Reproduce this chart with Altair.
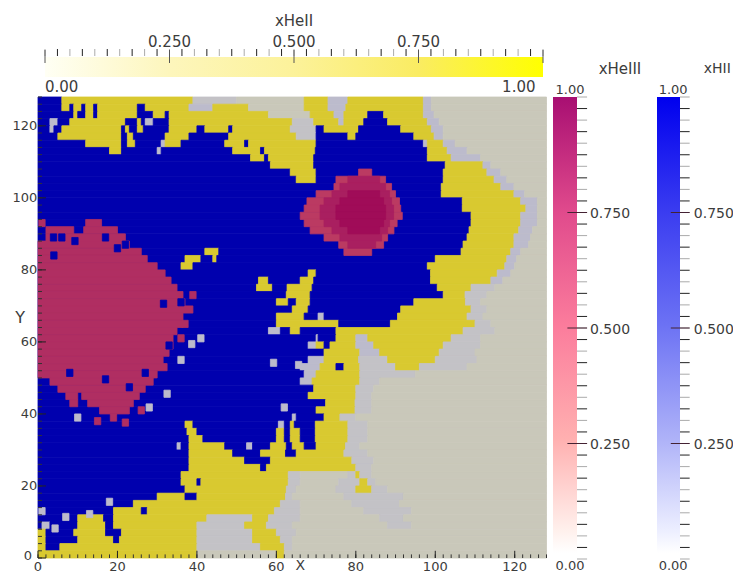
import altair as alt
import pandas as pd

FONT = "DejaVu Sans"
TXT = "#3c3c3c"
COLORS = {"B": "#0000ae", "Y": "#d9c930", "G": "#c9c8ba", "L": "#bcbbcc", "l": "#c3c2c6",
          "R": "#b02e62", "P": "#bb3a62", "Q": "#a91f60", "M": "#a00c58"}

# each row spans 2 units of Y, top to bottom; a token is colour + X where the run ends
field_rows = [
 "B6 Y39 l50 G67 Y73 L78 Y97 L99 G128",
 "B6 Y8 B9 Y11 B12 Y14 B15 Y25 B27 Y38 L44 Y53 G67 Y73 L77.5 Y97 L99 G128",
 "B9 Y10 B12 Y14 B15 Y25 B29 Y32 B33 Y58 G68.5 Y74.5 L77 Y83 B87 Y97 L99.7 G128",
 "B3 L5 B8 Y22 B25 Y26 B27 L29 B33 Y64 l69.4 Y75.7 L77 Y82 B88 Y98 L101 G128",
 "B3 L4 B6 Y21 B22 Y23 B25 Y26.5 B33 Y40 B42 Y48 B49 Y63.5 l70 B72 Y80.7 B91.3 Y99 L102 G128",
 "B5 Y21 B22.5 Y24 B32 Y38 B48 Y65 l70 B78 Y80 B94.6 Y99.7 L102 G128",
 "B12 Y21 B22.5 Y24.5 B31 L32 Y36 B47 Y52 B53 Y70 B97 L98 Y102 L105 G128",
 "B18 Y21 B30 L31 B49 Y56 B57 Y69.8 B98 Y103 L108 G128",
 "B53.5 Y57 B58 Y69.4 B98 Y104 L111.4 G128",
 "B58.5 Y69.4 B102.5 Y112 L114 G128",
 "B63.5 Y70 B102 Y113 L116.5 G128",
 "B65 Y70 B102 Y114.8 L118 G128",
 "B101.5 Y116.5 L119.8 G128",
 "B101.5 Y119.8 L122.5 G128",
 "B106.8 Y121.5 L125.7 G128",
 "B106.8 Y122.8 L125.7 G128",
 "B109 Y121.5 L125.7 G128",
 "B109 Y121.5 L125.7 G128",
 "B108.5 Y121 L124.5 G128",
 "B108 Y119.8 L124 G128",
 "B107 Y119.8 L123.5 G128",
 "B42 Y45.5 B106.5 Y119 L121.5 G128",
 "B37 Y41 B44 Y45 B100 Y118 L120.5 G128",
 "B36 Y39 B98 Y117.5 L120 G128",
 "B68 Y70 B98.8 Y115.6 L119 G128",
 "B55.5 Y58 B66 Y69.4 B98.8 Y114 L117 G128",
 "B55 Y59 B62.7 Y69 B100.5 Y109 l115 G128",
 "B62.5 Y68.5 B102 Y107.5 l113 G128",
 "B60 Y63 B65 Y68.5 B94.6 Y107.6 l111.4 G128",
 "B64 Y68 B91.3 Y109 l113 G128",
 "B60 Y67 B70.5 L72 B90.5 Y108 l112 G128",
 "B60 Y75.7 B88.7 Y110 l114 G128",
 "B58 L61 B63.5 Y66 B75 Y107 l115 G128",
 "B70 L70.5 B75 Y80 L83 Y104 l111.4 G128",
 "B68 L70 Y72 B73.5 Y80 L84.5 Y102 l111.4 G128",
 "B72 Y81 L86 Y101 l110 G128",
 "B68 L72 Y80.7 l88 Y100 l110.5 G128",
 "B66 L71 Y75 B77 Y81 l90 Y96 l108 G128",
 "B67 L70 Y81 l95 G128",
 "B66 L69 Y81 l86 G128",
 "B69.4 Y80 l84.5 G128",
 "B68 Y80 l84 G128",
 "B72.4 Y79.8 l84 G128",
 "B70 Y79.8 l84 G128",
 "B64 L65 B72 Y76 l80 G128",
 "B37 Y39 B60.5 L62 B63.5 Y64.5 B69.8 Y78 l83 G128",
 "B37.5 Y40 B60 Y62 B63.5 Y66 B69.8 Y78 l83 G128",
 "B38 Y41.5 B60 Y62 B63.5 Y66 B69.8 Y78 l83 G128",
 "B35 L36 B38 Y47 B52.5 L54 B58.5 Y62.5 B64 Y67 B70 Y77.4 l81 G128",
 "B38 Y49 B56 Y62.3 B65 Y77 l83 G128",
 "B38 Y52 B58.5 Y79 l84.5 G128",
 "B38 Y56 B57.5 Y80 l84 G128",
 "B36 Y63 l66 G78 l80 Y81 l84 G128",
 "B36 Y40 B41 Y63 l66 G75.7 l81 Y83 l85 G128",
 "B37 Y62.5 l65 G75 l80 Y84 l88 G128",
 "B30 Y37 B40 Y62.3 l64 G77 l92 G128",
 "B24 Y61 l66 G79 l91 G128",
 "B19 Y26 B27.5 Y59.5 l66 G82 l94 G128",
 "B10 Y16.5 B19 Y42.5 l54 Y58 l66 G86 l92 G128",
 "B1 L3 B10 Y17 B19 Y40 l52 Y57.5 l64 G88 l94 G128",
 "Y2 B9 Y17 B21 Y40 l54 Y60 l65 G128",
 "Y2 B10 Y19 B20.5 Y40 l54 Y61 l64 G128",
 "Y2 B5.5 Y40 l56 Y62 l64 G128",
 "Y40 G60 Y62 G128",
]

# (row index, runs) painted over the field; "_" leaves the field showing
left_blob = [
 (17, "_12 R16"), (18, "_2 R9 _11.5 R20"), (19, "_2 R22"), (20, "R23"), (21, "R26"),
 (22, "R27.5"), (23, "R30"), (24, "R32"), (25, "R33.5"), (26, "R35"), (27, "R36.5"),
 (28, "R37"), (29, "R39"), (30, "R36.5"), (31, "R36.5"), (32, "R35"), (33, "R34"),
 (34, "R34"), (35, "R33"), (36, "R31.5"), (37, "R32.5"), (38, "R30"), (39, "_3 R29"),
 (40, "_5 R27"), (41, "_7 R10 _11 R25.5"), (42, "_8 R10 _12.5 R24"), (43, "_15.5 R23"),
]
right_blob = [
 (10, "_80.7 P84"), (11, "_75 P87.5"), (12, "_74.5 P89"), (13, "_70 P90"), (14, "_67.7 P91"),
 (15, "_67 P91.3"), (16, "_66 P91.7"), (17, "_67 P90.4"), (18, "_68.5 P89.6"), (19, "_72 P88"),
 (20, "_75.7 P87"), (21, "_77 P84"),
 (11, "_78 Q86"), (12, "_76 Q87.5"), (13, "_74 Q88.5"), (14, "_72 Q89"), (15, "_71 Q89.5"),
 (16, "_71 Q89.5"), (17, "_72 Q88.5"), (18, "_74 Q88"), (19, "_76 Q86.5"), (20, "_78 Q85"),
 (13, "_78 M86"), (14, "_76 M87"), (15, "_75 M87.5"), (16, "_75 M87.5"), (17, "_76 M87"), (18, "_78 M86"),
]
# single cells: (x, row, colour)
specks = [
 (3.9, 19, "B"), (6, 19, "B"), (9.3, 19.5, "B"), (17, 19, "B"), (4, 21.5, "B"), (20, 20.5, "B"),
 (22, 20, "B"), (8, 37.8, "B"), (17, 38.7, "B"), (27, 37.8, "B"), (23, 39.8, "B"), (31.6, 28.2, "B"),
 (36, 28, "B"), (33, 34, "B"), (41, 33, "L"), (38.7, 33.8, "L"), (36, 36, "L"), (32.5, 40.7, "L"),
 (28, 42.6, "L"), (59.3, 36.4, "L"), (65.6, 36.7, "L"), (62, 42.6, "L"), (10, 44, "L"), (1, 57, "L"),
 (7, 57.8, "L"), (13, 57.4, "L"), (18, 55.7, "L"), (4.3, 59.4, "L"), (15, 44.5, "R"), (22, 44.7, "R"),
 (1, 17, "R"), (19, 44, "R"), (26, 43, "R"), (37, 31, "R"), (39, 27, "R"), (36, 33, "R"),
]

axis_ticks = [0, 20, 40, 60, 80, 100, 120]
bar_major = [0.0, 0.25, 0.5, 0.75, 1.0]
bar_labels = ["0.250", "0.500", "0.750"]
bar_label_vals = [0.25, 0.5, 0.75]
step_count = 40
yellow_stops = [(0, "#fffff4"), (0.25, "#fdf6bc"), (0.5, "#fcf29a"), (0.75, "#faec62"), (1, "#ffff00")]
magenta_stops = [(0, "#ffffff"), (0.05, "#fff0ec"), (0.25, "#ffb0b0"), (0.5, "#fb7c9c"), (0.75, "#e04a8c"), (1, "#a80f72")]
blue_stops = [(0, "#ffffff"), (0.05, "#eceeff"), (0.25, "#aeb2f8"), (0.5, "#6c72f4"), (0.75, "#3a3cf0"), (1, "#0000ee")]


def runs(row, spec):
    out, start = [], 0.0
    for tok in spec.split():
        end = float(tok[1:])
        if tok[0] != "_":
            out.append(dict(x=start, x2=end, y=128 - 2 * row - 2, y2=128 - 2 * row, c=COLORS[tok[0]]))
        start = end
    return out


cells = []
for i, spec in enumerate(field_rows):
    cells += runs(i, spec)
for i, spec in left_blob + right_blob:
    cells += runs(i, spec)
for x, r, c in specks:
    cells.append(dict(x=x - 0.8, x2=x + 0.8, y=128 - 2 * r - 2, y2=128 - 2 * r, c=COLORS[c]))

HX = alt.Scale(domain=[0, 128], range=[30, 538.5])
HY = alt.Scale(domain=[0, 128], range=[550, 89])
TX = alt.Scale(domain=[0, 1], range=[37, 535])
TY = alt.Scale(domain=[0, 1], range=[69, 49])
MX = alt.Scale(domain=[0, 1], range=[545, 569])
BX = alt.Scale(domain=[0, 1], range=[649, 672])
SY = alt.Scale(domain=[0, 1], range=[551, 89])


def X(s, f="x"):
    return alt.X(f"{f}:Q", scale=s, axis=None)


def Y(s, f="y"):
    return alt.Y(f"{f}:Q", scale=s, axis=None)


def segs(rows, sx, sy, color, width):
    return alt.Chart(pd.DataFrame(rows)).mark_rule(color=color, strokeWidth=width).encode(
        x=X(sx), x2=alt.X2("x2:Q"), y=Y(sy), y2=alt.Y2("y2:Q"))


def text(rows, sx, sy, size=13, align="center", color=TXT, baseline="middle"):
    return alt.Chart(pd.DataFrame(rows)).mark_text(
        font=FONT, fontSize=size, align=align, baseline=baseline, color=color
    ).encode(x=X(sx), y=Y(sy), text="t:N")


def gradient_box(stops, sx, sy, x0, x1, y0, y1, vertical):
    grad = alt.LinearGradient(
        gradient="linear",
        stops=[alt.GradientStop(offset=o, color=c) for o, c in stops],
        x1=0, x2=0 if vertical else 1, y1=1 if vertical else 0, y2=0)
    return alt.Chart(pd.DataFrame([dict(x=x0, x2=x1, y=y0, y2=y1)])).mark_rect(color=grad).encode(
        x=X(sx), x2=alt.X2("x2:Q"), y=Y(sy), y2=alt.Y2("y2:Q"))


layers = []

# field
layers.append(alt.Chart(pd.DataFrame(cells)).mark_rect(strokeWidth=0.8).encode(
    x=X(HX), x2=alt.X2("x2:Q"), y=Y(HY), y2=alt.Y2("y2:Q"),
    color=alt.Color("c:N", scale=None), stroke=alt.Stroke("c:N", scale=None)))

# field ticks
minor = [v for v in range(0, 129, 2)]
layers.append(segs([dict(x=v, x2=v, y=0, y2=1) for v in minor], HX, HY, "#333333", 1))
layers.append(segs([dict(x=v, x2=v, y=0, y2=2) for v in axis_ticks], HX, HY, "#222222", 1))
layers.append(segs([dict(x=0, x2=1, y=v, y2=v) for v in minor], HX, HY, "#333333", 1))
layers.append(segs([dict(x=0, x2=2, y=v, y2=v) for v in axis_ticks], HX, HY, "#222222", 1))
layers.append(text([dict(x=v, y=-2.5, t=str(v)) for v in axis_ticks], HX, HY))
layers.append(text([dict(x=-0.2, y=v, t=str(v)) for v in axis_ticks[1:]], HX, HY, align="right"))
layers.append(text([dict(x=-1.5, y=0.6, t="0")], HX, HY, align="right"))
layers.append(text([dict(x=66, y=-2.1, t="X")], HX, HY, size=14))
layers.append(text([dict(x=-4.5, y=66.5, t="Y")], HX, HY, size=16))

# top colour bar
layers.append(gradient_box(yellow_stops, TX, TY, 0, 1, 0, 1, False))
layers.append(segs([dict(x=k / step_count, x2=k / step_count, y=1.05, y2=1.4) for k in range(0, step_count + 1, 2)], TX, TY, "#aaaaaa", 1))
layers.append(segs([dict(x=k / step_count, x2=k / step_count, y=1.05, y2=1.4) for k in range(1, step_count + 1, 2)], TX, TY, "#222222", 1))
layers.append(segs([dict(x=v, x2=v, y=0.7, y2=1.35) for v in bar_major], TX, TY, "#555555", 1))
layers.append(text([dict(x=v, y=1.75, t=t) for v, t in zip(bar_label_vals, bar_labels)], TX, TY, size=15))
layers.append(text([dict(x=0.5, y=2.8, t="xHeII")], TX, TY, size=15))
layers.append(text([dict(x=0.0, y=-0.5, t="0.00")], TX, TY, size=15, align="left"))
layers.append(text([dict(x=0.985, y=-0.5, t="1.00")], TX, TY, size=15, align="right"))

# side colour bars
for stops, sx, title, tx, cx, lx, tsize in [
    (magenta_stops, MX, "xHeIII", 2.79, 0.71, 1.54, 15),
    (blue_stops, BX, "xHII", 2.62, 0.7, 1.6, 14),
]:
    layers.append(gradient_box(stops, sx, SY, 0, 1, 0.013, 1, True))
    layers.append(segs([dict(x=1, x2=1.42, y=k / step_count, y2=k / step_count) for k in range(0, step_count + 1, 2)], sx, SY, "#aaaaaa", 1))
    layers.append(segs([dict(x=1, x2=1.42, y=k / step_count, y2=k / step_count) for k in range(1, step_count + 1, 2)], sx, SY, "#222222", 1))
    layers.append(segs([dict(x=0.6, x2=1.42, y=v, y2=v) for v in bar_label_vals], sx, SY, "#442233", 1))
    layers.append(text([dict(x=lx, y=v - 0.004, t=t) for v, t in zip(bar_label_vals, bar_labels)], sx, SY, size=14, align="left"))
    layers.append(text([dict(x=cx, y=1.015, t="1.00"), dict(x=cx, y=-0.016, t="0.00")], sx, SY, size=13))
    layers.append(text([dict(x=tx, y=1.06, t=title)], sx, SY, size=tsize))

chart = alt.layer(*layers).resolve_scale(x="independent", y="independent").properties(
    width=725, height=566, padding=0,
    autosize=alt.AutoSizeParams(type="none", contains="padding"),
    background="white",
).configure_view(stroke=None)

chart.save("out.html", embed_options={"renderer": "svg", "actions": False})
